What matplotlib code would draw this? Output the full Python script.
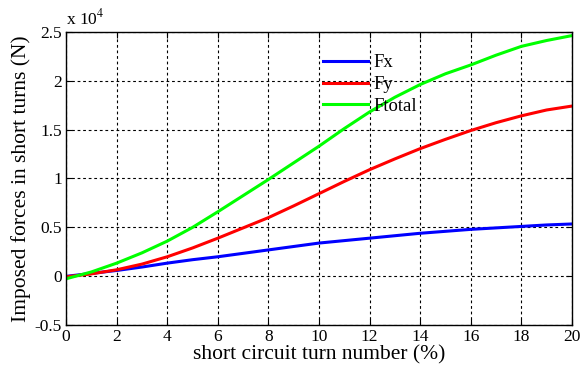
import matplotlib.pyplot as plt
import numpy as np

plt.rcParams['font.family'] = ['Liberation Serif', 'DejaVu Serif']
plt.rcParams['mathtext.fontset'] = 'stix'

# short circuit turn number (%) and imposed forces (N)
turns = [0, 1, 2, 3, 4, 5, 6, 7, 8, 9, 10, 11, 12, 13, 14, 15, 16, 17, 18, 19, 20]
fx = [0, 300, 600, 950, 1350, 1700, 2000, 2350, 2700, 3050, 3400, 3650, 3900, 4150, 4400, 4600, 4800, 4950, 5100, 5250, 5350]
fy = [-50, 250, 670, 1250, 2000, 2900, 3900, 4950, 6000, 7200, 8450, 9700, 10900, 12000, 13050, 14000, 14900, 15700, 16400, 17000, 17400]
ftotal = [-250, 450, 1350, 2400, 3600, 5000, 6600, 8250, 9900, 11600, 13300, 15100, 16800, 18300, 19600, 20700, 21600, 22600, 23500, 24100, 24600]

fig = plt.figure(figsize=(5.8, 3.73), dpi=100)
ax = fig.add_axes([0.114, 0.128, 0.872, 0.787])

ax.plot(turns, np.array(fx) / 1e4, color='#0000ff', lw=2.2, label='Fx')
ax.plot(turns, np.array(fy) / 1e4, color='#ff0000', lw=2.2, label='Fy')
ax.plot(turns, np.array(ftotal) / 1e4, color='#00ff00', lw=2.2, label='Ftotal')

ax.set_xlim(0, 20)
ax.set_ylim(-0.5, 2.5)
ax.set_xticks(np.arange(0, 21, 2))
ax.set_yticks([-0.5, 0, 0.5, 1, 1.5, 2, 2.5])
ax.set_yticklabels(['-0.5', '0', '0.5', '1', '1.5', '2', '2.5'])
ax.tick_params(direction='in', top=True, right=True, labelsize=12.5, length=4, pad=3)
ax.grid(True, color='black', linestyle=(0, (2.5, 2.5)), linewidth=0.8)
for s in ax.spines.values():
    s.set_linewidth(1.0)

ax.set_xlabel('short circuit turn number (%)', fontsize=15.5, labelpad=0)
ax.set_ylabel('Imposed forces in short turns (N)', fontsize=15.5, labelpad=3)
ax.text(0.0, 1.012, r'x 10$^{4}$', transform=ax.transAxes, fontsize=12.5, ha='left', va='bottom')

ax.legend(loc='upper left', bbox_to_anchor=(0.49, 0.955), frameon=False, fontsize=13.5,
          handlelength=2.4, handletextpad=0.3, labelspacing=0.25, borderpad=0)

fig.savefig('out.png', dpi=100)
